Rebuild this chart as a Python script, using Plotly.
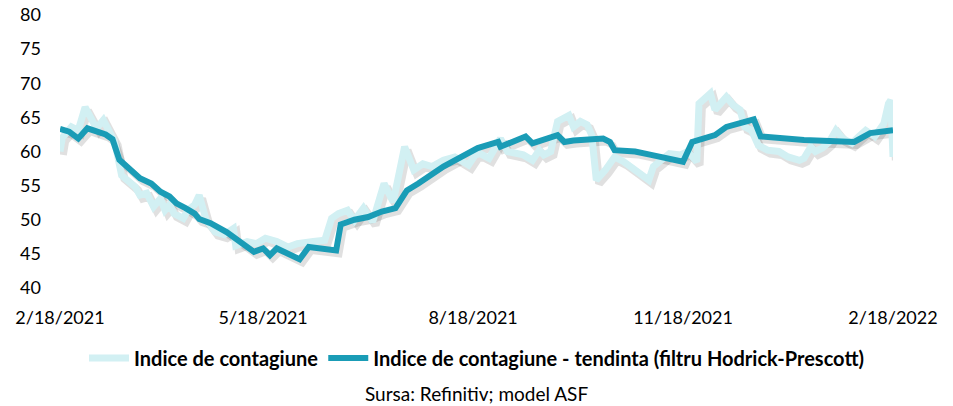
import plotly.graph_objects as go

# ---- data ----
raw_dates = [
    "2021-02-18", "2021-02-19", "2021-02-23", "2021-02-26", "2021-03-01", "2021-03-04",
    "2021-03-06", "2021-03-09", "2021-03-12", "2021-03-14", "2021-03-17", "2021-03-20",
    "2021-03-23", "2021-03-25", "2021-03-28", "2021-03-31", "2021-04-03", "2021-04-05",
    "2021-04-07", "2021-04-09", "2021-04-13", "2021-04-15", "2021-04-18", "2021-04-20",
    "2021-04-23", "2021-04-27", "2021-05-01", "2021-05-05", "2021-05-06", "2021-05-11",
    "2021-05-15", "2021-05-19", "2021-05-24", "2021-05-29", "2021-06-02", "2021-06-09",
    "2021-06-14", "2021-06-17", "2021-06-20", "2021-06-24", "2021-06-27", "2021-07-01",
    "2021-07-05", "2021-07-10", "2021-07-14", "2021-07-19", "2021-07-23", "2021-07-27",
    "2021-07-31", "2021-08-05", "2021-08-10", "2021-08-16", "2021-08-19", "2021-08-21",
    "2021-08-25", "2021-08-30", "2021-09-02", "2021-09-09", "2021-09-13", "2021-09-16",
    "2021-09-18", "2021-09-21", "2021-09-24", "2021-09-29", "2021-10-01", "2021-10-04",
    "2021-10-07", "2021-10-09", "2021-10-11", "2021-10-15", "2021-10-19", "2021-10-23",
    "2021-10-28", "2021-10-31", "2021-11-03", "2021-11-05", "2021-11-08", "2021-11-12",
    "2021-11-17", "2021-11-20", "2021-11-24", "2021-11-25", "2021-11-30", "2021-12-02",
    "2021-12-07", "2021-12-10", "2021-12-13", "2021-12-15", "2021-12-18", "2021-12-21",
    "2021-12-25", "2021-12-30", "2022-01-03", "2022-01-08", "2022-01-10", "2022-01-13",
    "2022-01-15", "2022-01-18", "2022-01-21", "2022-01-24", "2022-01-27", "2022-01-31",
    "2022-02-03", "2022-02-06", "2022-02-10", "2022-02-14", "2022-02-16", "2022-02-17",
    "2022-02-18",
]
raw_values = [
    60.0, 62.0, 63.6, 63.1, 66.5, 64.6,
    63.4, 64.6, 62.9, 61.4, 56.5, 55.8,
    54.8, 53.6, 53.9, 51.9, 53.1, 51.4,
    52.2, 50.9, 50.2, 51.4, 52.2, 53.6,
    50.0, 48.2, 47.8, 48.7, 46.2, 46.8,
    46.5, 47.3, 46.8, 46.0, 46.5, 46.8,
    47.0, 50.2, 50.9, 51.4, 49.9, 51.7,
    49.7, 55.3, 52.6, 60.7, 57.3, 58.2,
    57.8, 58.7, 59.2, 58.0, 59.5, 59.7,
    59.0, 61.9, 60.0, 59.5, 58.7, 60.2,
    59.5, 60.0, 64.4, 65.3, 63.6, 64.4,
    63.9, 62.4, 55.8, 57.3, 59.2, 58.5,
    57.3, 56.3, 55.8, 57.8, 58.5, 59.7,
    59.5, 60.0, 58.5, 67.0, 68.5, 66.1,
    68.0, 66.8, 66.1, 63.6, 63.1, 60.9,
    60.2, 60.0, 59.2, 58.7, 59.0, 60.7,
    60.0, 60.5, 61.4, 63.1, 61.9, 61.2,
    62.2, 63.1, 62.2, 64.1, 67.0, 67.5,
    59.2,
]

trend_dates = [
    "2021-02-18", "2021-02-22", "2021-02-26", "2021-03-02", "2021-03-10", "2021-03-13",
    "2021-03-16", "2021-03-21", "2021-03-25", "2021-03-30", "2021-04-03", "2021-04-07",
    "2021-04-10", "2021-04-14", "2021-04-18", "2021-04-20", "2021-04-25", "2021-05-02",
    "2021-05-08", "2021-05-14", "2021-05-18", "2021-05-21", "2021-05-24", "2021-05-30",
    "2021-06-03", "2021-06-07", "2021-06-17", "2021-06-19", "2021-06-21", "2021-06-27",
    "2021-07-03", "2021-07-09", "2021-07-15", "2021-07-20", "2021-07-25", "2021-07-31",
    "2021-08-05", "2021-08-10", "2021-08-16", "2021-08-20", "2021-08-25", "2021-08-29",
    "2021-08-30", "2021-09-04", "2021-09-10", "2021-09-13", "2021-09-18", "2021-09-24",
    "2021-09-27", "2021-10-01", "2021-10-14", "2021-10-17", "2021-10-19", "2021-10-28",
    "2021-11-04", "2021-11-11", "2021-11-18", "2021-11-22", "2021-11-27", "2021-12-02",
    "2021-12-07", "2021-12-12", "2021-12-19", "2021-12-22", "2022-01-10", "2022-02-01",
    "2022-02-05", "2022-02-08", "2022-02-18",
]
trend_values = [
    63.3, 62.9, 61.9, 63.4, 62.5, 61.8,
    58.8, 57.3, 56.1, 55.3, 54.1, 53.4,
    52.4, 51.7, 50.9, 50.1, 49.5, 48.2,
    46.8, 45.3, 45.8, 44.8, 45.8, 44.8,
    44.2, 46.0, 45.6, 45.5, 49.3, 50.0,
    50.4, 51.2, 51.7, 54.3, 55.3, 56.8,
    57.8, 58.7, 59.7, 60.5, 61.0, 61.4,
    60.7, 61.4, 62.2, 61.2, 61.7, 62.4,
    61.4, 61.6, 61.9, 61.4, 60.2, 60.0,
    59.5, 59.0, 58.5, 61.4, 61.9, 62.4,
    63.6, 64.1, 64.7, 62.2, 61.7, 61.4,
    62.2, 62.7, 63.1,
]

tick_dates = ["2021-02-18", "2021-05-18", "2021-08-18", "2021-11-18", "2022-02-18"]
tick_labels = ["2/18/2021", "5/18/2021", "8/18/2021", "11/18/2021", "2/18/2022"]
y_ticks = [40, 45, 50, 55, 60, 65, 70, 75, 80]

name_raw = "Indice de contagiune"
name_trend = "Indice de contagiune - tendinta (filtru Hodrick-Prescott)"
source_text = "Sursa: Refinitiv; model ASF"

RAW_COLOR = "#D2F0F3"
TREND_COLOR = "#1A9CB6"
SHADOW = "rgba(60,60,60,0.16)"
FONT = "Lato"

fig = go.Figure()

# soft shadows (drawn on shifted hidden axes)
fig.add_trace(go.Scatter(x=raw_dates, y=raw_values, mode="lines", xaxis="x", yaxis="y",
                         line=dict(color=SHADOW, width=8), showlegend=False, hoverinfo="skip"))
fig.add_trace(go.Scatter(x=trend_dates, y=trend_values, mode="lines", xaxis="x", yaxis="y",
                         line=dict(color=SHADOW, width=7), showlegend=False, hoverinfo="skip"))

# main series on the visible axes
fig.add_trace(go.Scatter(x=raw_dates, y=raw_values, mode="lines", name=name_raw,
                         xaxis="x2", yaxis="y2",
                         line=dict(color=RAW_COLOR, width=7)))
fig.add_trace(go.Scatter(x=trend_dates, y=trend_values, mode="lines", name=name_trend,
                         xaxis="x2", yaxis="y2",
                         line=dict(color=TREND_COLOR, width=6)))

x_range = ["2021-02-18", "2022-02-18"]
# shadow axes: shifted ranges so the shadow appears ~3px right and down
x_shadow = ["2021-02-16 18:00", "2022-02-16 18:00"]
y_shadow = [40.5, 80.5]

fig.update_layout(
    width=953, height=406,
    margin=dict(l=60, r=60, t=15, b=118, autoexpand=False),
    paper_bgcolor="white", plot_bgcolor="white",
    font=dict(family=FONT, size=18, color="#000000"),
    xaxis=dict(range=x_shadow, visible=False, showgrid=False, zeroline=False, automargin=False),
    yaxis=dict(range=y_shadow, visible=False, showgrid=False, zeroline=False, automargin=False),
    xaxis2=dict(range=x_range, overlaying="x", tickvals=tick_dates, ticktext=tick_labels,
                showgrid=False, zeroline=False, showline=False, ticks="", automargin=False,
                ticklabeloverflow="allow",
                ticklabelstandoff=17, tickfont=dict(family=FONT, size=18)),
    yaxis2=dict(range=[40, 80], overlaying="y", tickvals=y_ticks, side="left",
                showgrid=False, zeroline=False, showline=False, ticks="", automargin=False,
                ticklabeloverflow="allow",
                ticklabelstandoff=18, tickfont=dict(family=FONT, size=18)),
    legend=dict(orientation="h", x=0.5, xanchor="center",
                yref="container", y=0.118, yanchor="middle",
                font=dict(family=FONT, size=20, color="#000000", weight="bold"),
                itemwidth=40, bgcolor="rgba(0,0,0,0)"),
    annotations=[dict(text=source_text, xref="paper", yref="paper", x=0.5, y=-0.385,
                      xanchor="center", yanchor="middle", showarrow=False,
                      font=dict(family=FONT, size=19, color="#000000"))],
    showlegend=True,
)

# remove the page's default body margin so the figure fills the window exactly
fig.write_html("out.html", config={"displayModeBar": False},
               post_script="document.body.style.margin='0';")
